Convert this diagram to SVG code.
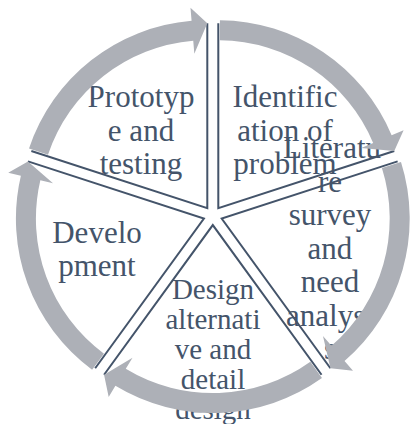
<svg xmlns="http://www.w3.org/2000/svg" xmlns:xlink="http://www.w3.org/1999/xlink" width="412" height="424" viewBox="0 0 412 424">
  <style>
    .edge { fill: none; stroke: #44546A; stroke-width: 2; stroke-linejoin: miter; }
    .arrow { fill: #ADB0B7; stroke: none; }
    .label { font-family: "Liberation Serif", "Times New Roman", serif; font-size: 31px; fill: #44546A; text-anchor: middle; }
    .small { font-size: 29px; }
  </style>
  <defs>
    <!-- one exploded pie segment spanning -90deg to -18deg, apex at the origin -->
    <path id="segEdges" d="M0,-185 L0,0 L175.95,-57.17"/>
    <!-- curved arrow riding on the rim of that segment -->
    <path id="segArrow" d="M1.641,-187.99 A188,188 0 0 1 173.31,-72.85 L185.29,-77.89 L175.95,-57.17 L142.89,-60.07 L154.87,-65.10 A168,168 0 0 0 1.466,-167.99 Z"/>
  </defs>

  <!-- segment outlines -->
  <g id="segment-identification">
    <use xlink:href="#segEdges" class="edge" transform="translate(218.30,208.14)"/>
  </g>
  <g id="segment-literature">
    <use xlink:href="#segEdges" class="edge" transform="translate(221.69,218.59) rotate(72)"/>
  </g>
  <g id="segment-design">
    <use xlink:href="#segEdges" class="edge" transform="translate(212.8,225.05) rotate(144)"/>
  </g>
  <g id="segment-development">
    <use xlink:href="#segEdges" class="edge" transform="translate(203.91,218.59) rotate(216)"/>
  </g>
  <g id="segment-prototype">
    <use xlink:href="#segEdges" class="edge" transform="translate(207.30,208.14) rotate(288)"/>
  </g>

  <!-- segment labels -->
  <g id="label-identification" class="label">
    <text x="285" y="107">Identific</text>
    <text x="285" y="140.5">ation of</text>
    <text x="285" y="174">problem</text>
  </g>
  <g id="label-literature" class="label">
    <text x="332" y="158">Literatu</text>
    <text x="330" y="191.5">re</text>
    <text x="330" y="225">survey</text>
    <text x="330" y="258.5">and</text>
    <text x="330" y="292">need</text>
    <text x="330" y="325.5">analysi</text>
    <text x="330" y="359">s</text>
  </g>
  <g id="label-design" class="label small">
    <text x="213" y="299">Design</text>
    <text x="213" y="329">alternati</text>
    <text x="213" y="359">ve and</text>
    <text x="213" y="389">detail</text>
    <text x="213" y="419">design</text>
  </g>
  <g id="label-development" class="label">
    <text x="97" y="242.5">Develo</text>
    <text x="97" y="276">pment</text>
  </g>
  <g id="label-prototype" class="label">
    <text x="141" y="107">Prototyp</text>
    <text x="141" y="140.5">e and</text>
    <text x="141" y="174">testing</text>
  </g>

  <!-- cycle connectors -->
  <g id="connectors">
    <use xlink:href="#segArrow" class="arrow" transform="translate(218.30,208.14)"/>
    <use xlink:href="#segArrow" class="arrow" transform="translate(221.69,218.59) rotate(72)"/>
    <use xlink:href="#segArrow" class="arrow" transform="translate(212.8,225.05) rotate(144)"/>
    <use xlink:href="#segArrow" class="arrow" transform="translate(203.91,218.59) rotate(216)"/>
    <use xlink:href="#segArrow" class="arrow" transform="translate(207.30,208.14) rotate(288)"/>
  </g>
</svg>
